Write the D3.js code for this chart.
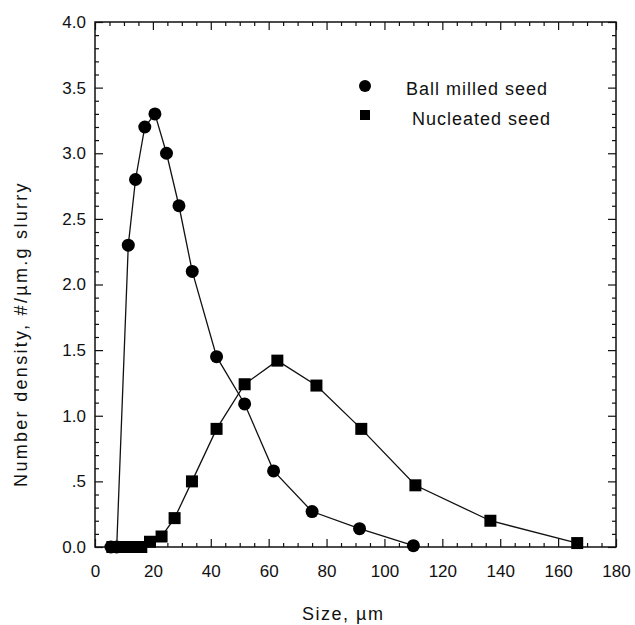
<!DOCTYPE html>
<html><head><meta charset="utf-8">
<script src="https://cdn.jsdelivr.net/npm/d3@7"></script>
<style>body{margin:0;background:#fff}svg{display:block}text{font-family:"Liberation Sans",Arial,sans-serif;fill:#111}</style>
</head><body><svg id="c" width="635" height="625"></svg>
<script>
const ballSize = [5.5, 7.5, 11.5, 14, 17.2, 20.7, 24.7, 29, 33.6, 42, 51.7, 61.7, 75, 91.4, 110];
const ballDensity = [0, 0, 2.3, 2.8, 3.2, 3.3, 3.0, 2.6, 2.1, 1.45, 1.09, 0.58, 0.27, 0.14, 0.01];
const nucSize = [6, 8.5, 11, 13.5, 16, 19, 23, 27.5, 33.5, 42, 51.7, 63, 76.5, 92, 110.7, 136.6, 166.6];
const nucDensity = [0, 0, 0, 0, 0, 0.04, 0.08, 0.22, 0.5, 0.9, 1.24, 1.42, 1.23, 0.9, 0.47, 0.2, 0.03];
const xTicks = [0, 20, 40, 60, 80, 100, 120, 140, 160, 180];
const yTicks = [0, 0.5, 1.0, 1.5, 2.0, 2.5, 3.0, 3.5, 4.0];
const yTickLabels = ["0.0", ".5", "1.0", "1.5", "2.0", "2.5", "3.0", "3.5", "4.0"];
const seriesNames = ["Ball milled seed", " Nucleated seed"];

const svg = d3.select("#c");
const L = 95, R = 616, T = 22, B = 547;
const x = d3.scaleLinear().domain([0, 180]).range([L, R]);
const y = d3.scaleLinear().domain([0, 4]).range([B, T]);

const xMinor = d3.range(0, 181, 5).filter(v => v % 20 !== 0);
const yMinor = d3.range(0, 41, 1).map(v => v / 10).filter(v => Math.round(v * 10) % 5 !== 0);

function styleAxis(g) {
  g.select(".domain").remove();
  g.selectAll("line").attr("stroke", "#111").attr("stroke-width", 1.2);
  g.selectAll("text").attr("font-size", 17).style("font-family", '"Liberation Sans",Arial,sans-serif');
}
// bottom
svg.append("g").attr("transform", `translate(0,${B})`)
  .call(d3.axisBottom(x).tickValues(xTicks).tickSize(-8).tickPadding(18).tickFormat(d3.format("d")))
  .call(styleAxis);
svg.append("g").attr("transform", `translate(0,${B})`)
  .call(d3.axisBottom(x).tickValues(xMinor).tickSize(-4).tickFormat(""))
  .call(styleAxis);
// top
svg.append("g").attr("transform", `translate(0,${T})`)
  .call(d3.axisTop(x).tickValues(xTicks).tickSize(-8).tickFormat(""))
  .call(styleAxis);
svg.append("g").attr("transform", `translate(0,${T})`)
  .call(d3.axisTop(x).tickValues(xMinor).tickSize(-4).tickFormat(""))
  .call(styleAxis);
// left
svg.append("g").attr("transform", `translate(${L},0)`)
  .call(d3.axisLeft(y).tickValues(yTicks).tickSize(-8).tickPadding(9).tickFormat((d, i) => yTickLabels[i]))
  .call(styleAxis);
svg.append("g").attr("transform", `translate(${L},0)`)
  .call(d3.axisLeft(y).tickValues(yMinor).tickSize(-4).tickFormat(""))
  .call(styleAxis);
// right
svg.append("g").attr("transform", `translate(${R},0)`)
  .call(d3.axisRight(y).tickValues(yTicks).tickSize(-8).tickFormat(""))
  .call(styleAxis);
svg.append("g").attr("transform", `translate(${R},0)`)
  .call(d3.axisRight(y).tickValues(yMinor).tickSize(-4).tickFormat(""))
  .call(styleAxis);

svg.append("rect").attr("x", L).attr("y", T).attr("width", R - L).attr("height", B - T)
  .attr("fill", "none").attr("stroke", "#111").attr("stroke-width", 1.5);

const line = d3.line().x(d => x(d[0])).y(d => y(d[1]));
const ball = ballSize.map((s, i) => [s, ballDensity[i]]);
const nuc = nucSize.map((s, i) => [s, nucDensity[i]]);

svg.append("path").datum(ball).attr("d", line).attr("fill", "none").attr("stroke", "#111").attr("stroke-width", 1.3);
svg.append("path").datum(nuc).attr("d", line).attr("fill", "none").attr("stroke", "#111").attr("stroke-width", 1.3);

svg.append("g").selectAll("rect").data(nuc).join("rect")
  .attr("x", d => x(d[0]) - 6).attr("y", d => y(d[1]) - 6)
  .attr("width", 12).attr("height", 12).attr("fill", "#000");
svg.append("g").selectAll("circle").data(ball).join("circle")
  .attr("cx", d => x(d[0])).attr("cy", d => y(d[1])).attr("r", 6.5).attr("fill", "#000");

// legend
svg.append("circle").attr("cx", 365).attr("cy", 86).attr("r", 6).attr("fill", "#000");
svg.append("rect").attr("x", 360).attr("y", 110).attr("width", 10).attr("height", 10).attr("fill", "#000");
svg.append("text").attr("x", 406).attr("y", 95).attr("font-size", 18).attr("letter-spacing", 1).text(seriesNames[0]);
svg.append("text").attr("x", 406).attr("y", 125).attr("font-size", 18).attr("letter-spacing", 1)
  .attr("xml:space", "preserve").style("white-space", "pre").text(seriesNames[1]);

// axis titles
svg.append("text").attr("x", 302).attr("y", 620).attr("font-size", 18).attr("letter-spacing", 1.5).text("Size, \u00b5m");
svg.append("text").attr("transform", "translate(27,334) rotate(-90)").attr("text-anchor", "middle")
  .attr("font-size", 18).attr("letter-spacing", 2.3).text("Number density, #/\u00b5m.g slurry");
</script></body></html>
